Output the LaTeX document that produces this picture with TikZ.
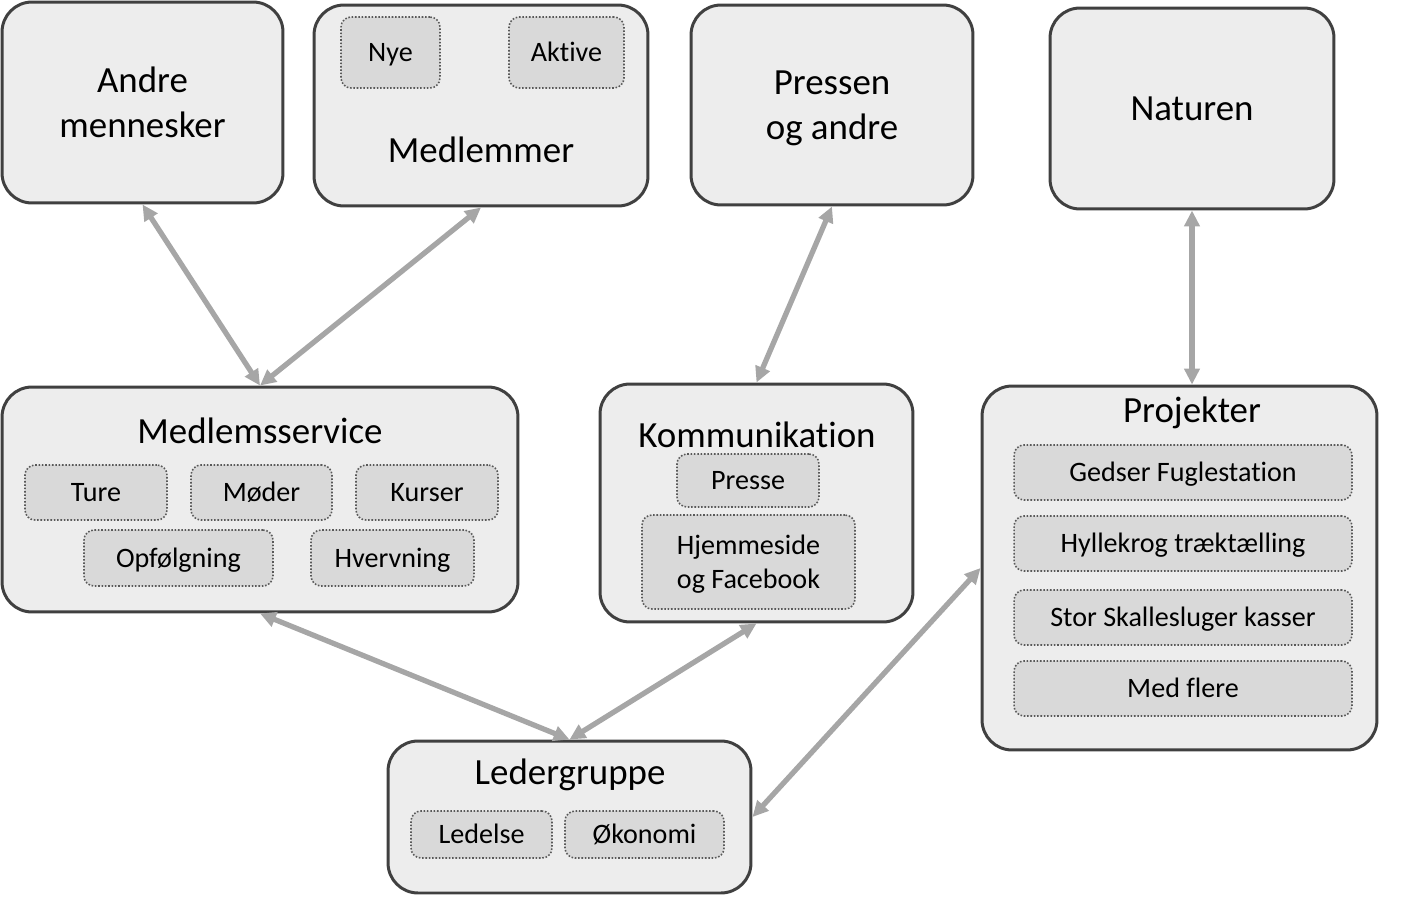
\documentclass[tikz,border=0pt]{standalone}
\usepackage{fontspec}
\setmainfont{Carlito}[Ligatures=NoCommon]
\usetikzlibrary{shapes}
\usetikzlibrary{positioning}
\usetikzlibrary{arrows.meta}
\definecolor{boxline}{HTML}{404040}
\definecolor{boxfill}{HTML}{EDEDED}
\definecolor{subfill}{HTML}{D9D9D9}
\definecolor{subline}{HTML}{595959}
\definecolor{linkgray}{HTML}{A6A6A6}
\newcommand{\bigtxt}{\fontsize{21}{25.5}\selectfont}
\newcommand{\smalltxt}{\fontsize{16}{19.3}\selectfont}
\tikzset{
    unit/.style = {rectangle, rounded corners=0.6cm, line width=1.7pt, draw=boxline, fill=boxfill, align=center, inner sep=0pt, font=\bigtxt},
    subunit/.style = {rectangle, rounded corners=0.2cm, line width=0.9pt, densely dotted, draw=subline, fill=subfill, align=center, inner sep=0pt, font=\smalltxt},
    unittitle/.style = {inner sep=0pt, font=\bigtxt, text height=13.5pt, text depth=0pt},
    bigline/.style = {text height=13.5pt, text depth=0pt},
    oneline/.style = {text height=10.3pt, text depth=0pt},
    edgel/.style = {{Triangle[length=9pt,width=8.5pt]}-{Triangle[length=9pt,width=8.5pt]}, line width=3pt, linkgray} % both ways
}
\begin{document}
\begin{tikzpicture}[x=0.02cm, y=-0.02cm]
\useasboundingbox (0, 0) rectangle (1406, 896);
%
\node[unit, text depth=0pt, minimum width=5.62cm, minimum height=4.02cm] at (142.5, 102.5) (andre) {Andre\\mennesker};
\node[unit, minimum width=6.68cm, minimum height=4.02cm] at (481, 105.5) (medlemmer) {};
\node[unit, text depth=0pt, minimum width=5.64cm, minimum height=4.0cm] at (832, 105) (pressen) {Pressen\\og andre};
\node[unit, bigline, minimum width=5.68cm, minimum height=4.02cm] at (1192, 108.5) (naturen) {Naturen};
%
\node[subunit, oneline, minimum width=1.98cm, minimum height=1.42cm] at (390.5, 52.5) (nye) {Nye};
\node[subunit, oneline, minimum width=2.3cm, minimum height=1.42cm] at (566.5, 52.5) (aktive) {Aktive};
\node[unittitle] at (481, 151) (medlemmertitle) {Medlemmer};
%
\node[unit, minimum width=10.32cm, minimum height=4.5cm] at (260, 499.5) (mservice) {};
\node[unittitle] at (260, 432) (mservicetitle) {Medlemsservice};
\node[subunit, oneline, minimum width=2.84cm, minimum height=1.1cm] at (96, 492.5) (ture) {Ture};
\node[subunit, oneline, minimum width=2.82cm, minimum height=1.1cm] at (261.5, 492.5) (moder) {Møder};
\node[subunit, oneline, minimum width=2.84cm, minimum height=1.1cm] at (427, 492.5) (kurser) {Kurser};
\node[subunit, oneline, minimum width=3.78cm, minimum height=1.12cm] at (178.5, 558) (opfolgning) {Opfølgning};
\node[subunit, oneline, minimum width=3.26cm, minimum height=1.12cm] at (392.5, 558) (hvervning) {Hvervning};
%
\node[unit, minimum width=6.26cm, minimum height=4.76cm] at (756.5, 503) (komm) {};
\node[unittitle] at (757, 436) (kommtitle) {Kommunikation};
\node[subunit, oneline, minimum width=2.84cm, minimum height=1.06cm] at (748, 480.5) (presse) {Presse};
\node[subunit, text depth=0pt, minimum width=4.26cm, minimum height=1.88cm] at (748.5, 562) (hjemmeside) {Hjemmeside\\og Facebook};
%
\node[unit, minimum width=7.9cm, minimum height=7.28cm] at (1179.5, 568) (projekter) {};
\node[unittitle] at (1192, 411) (projektertitle) {Projekter};
\node[subunit, oneline, minimum width=6.76cm, minimum height=1.1cm] at (1183, 472.5) (gedser) {Gedser Fuglestation};
\node[subunit, oneline, minimum width=6.76cm, minimum height=1.1cm] at (1183, 543.5) (hyllekrog) {Hyllekrog træktælling};
\node[subunit, oneline, minimum width=6.76cm, minimum height=1.1cm] at (1183, 617.5) (skallesluger) {Stor Skallesluger kasser};
\node[subunit, oneline, minimum width=6.76cm, minimum height=1.1cm] at (1183, 688.5) (medflere) {Med flere};
%
\node[unit, minimum width=7.26cm, minimum height=3.04cm] at (569.5, 817) (leder) {};
\node[unittitle] at (570, 773) (ledertitle) {Ledergruppe};
\node[subunit, oneline, minimum width=2.82cm, minimum height=0.94cm] at (481.5, 834.5) (ledelse) {Ledelse};
\node[subunit, oneline, minimum width=3.18cm, minimum height=0.94cm] at (644.5, 834.5) (okonomi) {Økonomi};
%
\draw[edgel] (andre.south) -- (mservice.north);
\draw[edgel] (medlemmer.south) -- (mservice.north);
\draw[edgel] (pressen.south) -- (komm.north);
\draw[edgel] (naturen.south) -- (naturen.south |- projekter.north);
\draw[edgel] (mservice.south) -- (leder.north);
\draw[edgel] (komm.south) -- (leder.north);
\draw[edgel] (projekter.west) -- (leder.east);

\end{tikzpicture}
\end{document}
